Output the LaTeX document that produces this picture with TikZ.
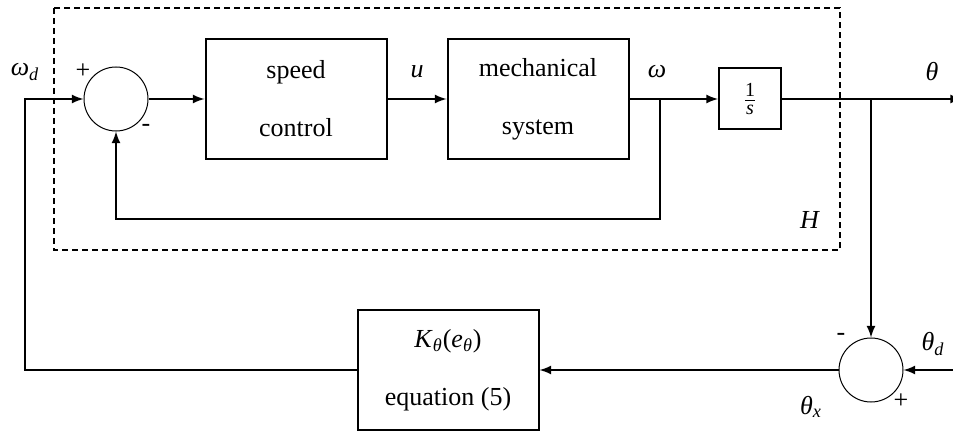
\documentclass[tikz,border=0pt]{standalone}
\usepackage{fontspec}
\setmainfont{Liberation Serif}
\usetikzlibrary{arrows}
\usetikzlibrary{positioning}

\newcommand{\ital}[1]{\textit{#1}}
\newcommand{\isub}[2]{\textit{#1}\textsubscript{\textit{#2}}}

\tikzset{
  blk/.style={draw, line width=1pt, minimum width=90.5pt, minimum height=60pt, align=center, inner sep=0pt},
  intblk/.style={draw, line width=1pt, minimum width=31pt, minimum height=30.5pt, inner sep=0pt},
  sumnode/.style={draw, circle, line width=0.5pt, minimum size=32pt, inner sep=0pt},
  sig/.style={line width=1pt},
  sigarr/.style={line width=1pt, -latex},
  lbl/.style={inner sep=0pt},
}

\begin{document}
\begin{tikzpicture}[x=0.5pt, y=-0.5pt, font=\fontsize{13}{15}\selectfont]
\useasboundingbox (0,0) rectangle (953,433);

% subsystem H
\draw[line width=1pt, dash pattern=on 3pt off 2pt] (54,8) rectangle (840,250);

% blocks
\node[sumnode] (sum1) at (116,99) {};
\node[blk] (ctrl) at (296,99) {speed\\[14pt]control};
\node[blk] (mech) at (538,99) {mechanical\\[14pt]system};
\node[intblk] (integ) at (750,99) {$\frac{\mbox{\fontsize{10}{12}\selectfont 1}}{\mbox{\fontsize{10}{12}\selectfont\itshape s}}$};
\node[sumnode] (sum2) at (871,370) {};
\node[blk] (gain) at (448,370) {\isub{K}{θ}(\isub{e}{θ})\\[14pt]equation (5)};

% corners
\coordinate (in) at (25,99);
\coordinate (corner) at (25,370);
\coordinate (wtap) at (660,99);
\coordinate (wback) at (660,219);
\coordinate (sback) at (116,219);
\coordinate (ttap) at (871,99);
\coordinate (out) at (962,99);
\coordinate (ref) at (962,370);

% signals
\draw[sigarr] (gain.west) -- (corner) -- (in) -- (sum1.west);
\draw[sigarr] (sum1.east) -- (ctrl.west);
\draw[sigarr] (ctrl.east) -- (mech.west);
\draw[sigarr] (mech.east) -- (integ.west);
\draw[sigarr] (wtap) -- (wback) -- (sback) -- (sum1.south);
\draw[sigarr] (integ.east) -- (out);
\draw[sigarr] (ttap) -- (sum2.north);
\draw[sigarr] (ref) -- (sum2.east);
\draw[sigarr] (sum2.west) -- (gain.east);

% labels
\node[lbl] (wdlbl) at (25,72) {\isub{ω}{d}};
\node[lbl] (plus1) at (83,71) {+};
\node[lbl] (minus1) at (146,128) {-};
\node[lbl] (ulbl) at (417,72) {\ital{u}};
\node[lbl] (wlbl) at (657,72) {\ital{ω}};
\node[lbl] (tlbl) at (932,72) {\ital{θ}};
\node[lbl] (hlbl) at (810,220) {\ital{H}};
\node[lbl] (minus2) at (841,337) {-};
\node[lbl] (plus2) at (901,401) {+};
\node[lbl] (tdlbl) at (933,344) {\isub{θ}{d}};
\node[lbl] (txlbl) at (811,407) {\isub{θ}{x}};
\end{tikzpicture}
\end{document}
